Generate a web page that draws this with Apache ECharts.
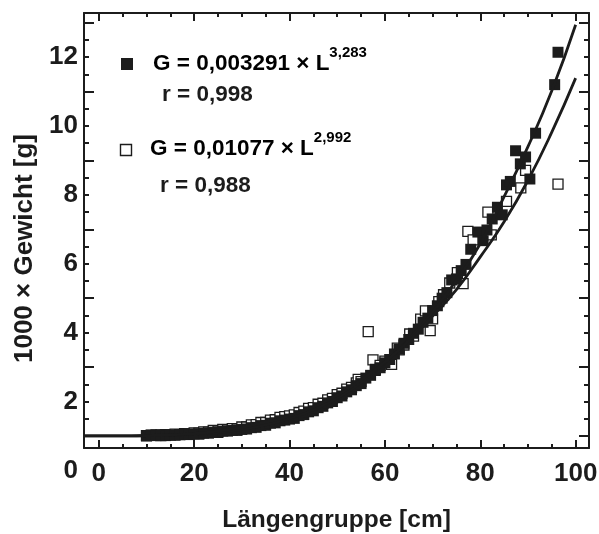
<!DOCTYPE html>
<html><head><meta charset="utf-8">
<script src="https://cdn.jsdelivr.net/npm/echarts@6/dist/echarts.min.js"></script>
<style>html,body{margin:0;padding:0;background:#fff}#c{width:599px;height:534px}</style>
</head><body><div id="c"></div>
<script>
// ---- data (y in the units printed on the axis) ----
const xTickMajor = [0,20,40,60,80,100];
const xTickMinor = [0,5,10,15,20,25,30,35,40,45,50,55,60,65,70,75,80,85,90,95,100];
const yTickMajor = [1,3,5,7,9,11,13];
const yTickMinor = [1,1.5,2,2.5,3,3.5,4,4.5,5,5.5,6,6.5,7,7.5,8,8.5,9,9.5,10,10.5,11,11.5,12,12.5,13];
const yLabelValues = [2,4,6,8,10,12];
const yLabelBelow = 0;

const filledPoints = [[10,1.0],[11,1.02],[12,1.01],[13,1.03],[14,1.01],[15,1.03],[16,1.02],[17,1.04],[18,1.05],[19,1.04],[20,1.06],[21,1.05],[22,1.08],[23,1.08],[24,1.11],[25,1.10],[26,1.14],[27,1.14],[28,1.16],[29,1.16],[30,1.19],[31,1.20],[32,1.24],[33,1.25],[34,1.30],[35,1.31],[36,1.37],[37,1.38],[38,1.44],[39,1.46],[40,1.49],[41,1.51],[42,1.59],[43,1.62],[44,1.70],[45,1.73],[46,1.82],[47,1.86],[48,1.96],[49,2.00],[50,2.11],[51,2.16],[52,2.28],[53,2.34],[54,2.46],[55,2.52],[56,2.68],[57,2.76],[58,2.90],[59,2.98],[60,3.12],[61,3.22],[62,3.38],[63,3.52],[64,3.69],[65,3.80],[66,3.98],[67,4.10],[68,4.30],[69,4.42],[70,4.64],[71,4.78],[72,5.00],[73,5.16],[74,5.53],[75,5.56],[76,5.80],[77,5.98],[78,6.42],[79.5,6.92],[80.6,6.67],[81.4,6.98],[82.5,7.30],[83.6,7.64],[84.6,7.42],[85.5,8.29],[86.3,8.39],[87.4,9.28],[88.4,8.90],[89.5,9.10],[90.4,8.46],[91.6,9.79],[95.6,11.20],[96.3,12.14]];

const openPoints = [[10,1.01],[11,1.02],[12,1.03],[13,1.01],[14,1.04],[15,1.03],[16,1.05],[17,1.04],[18,1.07],[19,1.06],[20,1.09],[21,1.08],[22,1.12],[23,1.11],[24,1.16],[25,1.14],[26,1.19],[27,1.18],[28,1.21],[29,1.20],[30,1.26],[31,1.26],[32,1.32],[33,1.33],[34,1.39],[35,1.39],[36,1.46],[37,1.47],[38,1.54],[39,1.56],[40,1.58],[41,1.61],[42,1.68],[43,1.72],[44,1.80],[45,1.82],[46,1.92],[47,1.95],[48,2.05],[49,2.09],[50,2.20],[51,2.24],[52,2.36],[53,2.41],[54,2.54],[54.4,2.64],[55,2.58],[56.5,4.03],[57.5,3.21],[58,2.93],[59,3.05],[60,3.17],[61.4,3.08],[62.6,3.55],[63,3.50],[64,3.64],[65.2,3.96],[66,3.90],[67.5,4.39],[68.5,4.63],[69.5,4.06],[70,4.40],[71.3,4.90],[72.3,5.10],[73.6,5.44],[75.2,5.74],[76.4,5.42],[77.4,6.94],[78.5,6.69],[81.6,7.50],[82.3,6.84],[85.5,7.81],[88.5,8.20],[89.5,8.71],[96.3,8.31]];

const fitFilled = [[-3,1.0],[0,1.0],[5,1.0],[10,1.01],[15,1.02],[20,1.05],[25,1.10],[30,1.19],[35,1.32],[40,1.51],[45,1.76],[50,2.10],[55,2.55],[60,3.12],[65,3.80],[70,4.60],[75,5.52],[80,6.58],[85,7.95],[90,9.40],[95,11.02],[100,12.94]];
const fitOpen = [[-3,1.0],[0,1.0],[5,1.0],[10,1.01],[15,1.03],[20,1.07],[25,1.14],[30,1.25],[35,1.40],[40,1.58],[45,1.84],[50,2.18],[55,2.62],[60,3.15],[65,3.76],[70,4.48],[75,5.25],[80,6.20],[85,7.22],[90,8.42],[95,9.82],[100,11.39]];

const eqFilled = 'G = 0,003291 × L', expFilled = '3,283', rFilled = 'r = 0,998';
const eqOpen = 'G = 0,01077 × L', expOpen = '2,992', rOpen = 'r = 0,988';
const xName = 'Längengruppe [cm]';
const yName = '1000 × Gewicht [g]';

// ---- styling ----
const INK = '#1c1c1c';
const FONT = '"Liberation Sans", Arial, Helvetica, sans-serif';
const XMIN = -3.1, XMAX = 102.8, YMIN = 0.65, YMAX = 13.28;
const tickStyle = {color: INK, width: 2};
const labelStyle = {fontFamily: FONT, fontWeight: 'bold', fontSize: 26, color: INK};

function xAx(pos, major, showLine) {
  return {
    type: 'value', position: pos, offset: 0, min: XMIN, max: XMAX,
    axisLine: {show: showLine, onZero: false, lineStyle: {color: INK, width: 2}},
    axisTick: {show: true, inside: true, length: major ? 8 : 4, lineStyle: tickStyle,
               customValues: major ? xTickMajor : xTickMinor},
    axisLabel: {show: false},
    splitLine: {show: false}
  };
}
function yAx(pos, major, showLine) {
  return {
    type: 'value', position: pos, offset: 0, min: YMIN, max: YMAX,
    axisLine: {show: showLine, onZero: false, lineStyle: {color: INK, width: 2}},
    axisTick: {show: true, inside: true, length: major ? 10 : 5, lineStyle: tickStyle,
               customValues: major ? yTickMajor : yTickMinor},
    axisLabel: {show: false},
    splitLine: {show: false}
  };
}

const xAxes = [xAx('bottom', true, true), xAx('bottom', false, false), xAx('top', true, true), xAx('top', false, false)];
xAxes[0].axisLabel = Object.assign({show: true, margin: 13, customValues: xTickMajor}, labelStyle);
xAxes[0].name = xName; xAxes[0].nameLocation = 'middle'; xAxes[0].nameGap = 60;
xAxes[0].nameTextStyle = {fontFamily: FONT, fontWeight: 'bold', fontSize: 24.5, color: INK};

const yAxes = [yAx('left', true, true), yAx('left', false, false), yAx('right', true, true), yAx('right', false, false)];
yAxes[0].axisLabel = Object.assign({show: true, margin: 6, customValues: yLabelValues}, labelStyle);
yAxes[0].name = yName; yAxes[0].nameLocation = 'middle'; yAxes[0].nameGap = 42; yAxes[0].nameRotate = 90;
yAxes[0].nameTextStyle = {fontFamily: FONT, fontWeight: 'bold', fontSize: 26, color: INK, padding: [0, 36, 0, 0]};

const richEq = {
  m: {fontFamily: FONT, fontWeight: 'bold', fontSize: 22.5, color: INK, lineHeight: 38},
  s: {fontFamily: FONT, fontWeight: 'bold', fontSize: 15, color: INK, lineHeight: 15, verticalAlign: 'top'}
};
function eqText(id, x, y, eq, ex) {
  return {type: 'text', id: id, x: x, y: y, z: 100,
    style: {text: '{m|' + eq + '}{s|' + ex + '}', rich: richEq, align: 'left', verticalAlign: 'middle'}};
}
function plainText(id, x, y, t) {
  return {type: 'text', id: id, x: x, y: y, z: 100,
    style: {text: t, fill: INK, font: 'bold 22.5px ' + FONT, align: 'left', verticalAlign: 'middle'}};
}

const chart = echarts.init(document.getElementById('c'), null, {renderer: 'canvas'});
chart.setOption({
  animation: false,
  backgroundColor: '#fff',
  grid: {left: 84, right: 10, top: 13, bottom: 86, containLabel: false, outerBoundsMode: 'none'},
  xAxis: xAxes,
  yAxis: yAxes,
  series: [
    {type: 'scatter', data: openPoints, symbol: 'rect', symbolSize: 10,
     itemStyle: {color: '#fff', borderColor: INK, borderWidth: 1.3, opacity: 1}, z: 2},
    {type: 'scatter', data: filledPoints, symbol: 'rect', symbolSize: 11,
     itemStyle: {color: INK, opacity: 1}, z: 3},
    {type: 'line', data: fitFilled, smooth: 0.5, showSymbol: false,
     lineStyle: {color: INK, width: 2.8}, z: 4},
    {type: 'line', data: fitOpen, smooth: 0.5, showSymbol: false,
     lineStyle: {color: INK, width: 2.8}, z: 4}
  ],
  graphic: [
    {type: 'rect', id: 'k1', shape: {x: 121, y: 58, width: 12, height: 12}, style: {fill: INK}, z: 100},
    eqText('t1', 153, 64, eqFilled, expFilled),
    plainText('t2', 162, 95, rFilled),
    {type: 'rect', id: 'k2', shape: {x: 120.5, y: 144.5, width: 11, height: 11}, style: {fill: '#fff', stroke: INK, lineWidth: 1.4}, z: 100},
    eqText('t3', 150, 149, eqOpen, expOpen),
    plainText('t4', 160, 186, rOpen)
  ]
});
// the "0" label sits below the frame, outside the axis range
const y0 = chart.convertToPixel({yAxisIndex: 0}, yLabelBelow);
chart.setOption({graphic: [{type: 'text', id: 'zero', x: 78, y: y0, z: 100,
  style: {text: String(yLabelBelow), fill: INK, font: 'bold 26px ' + FONT, align: 'right', verticalAlign: 'middle'}}]});
</script></body></html>
